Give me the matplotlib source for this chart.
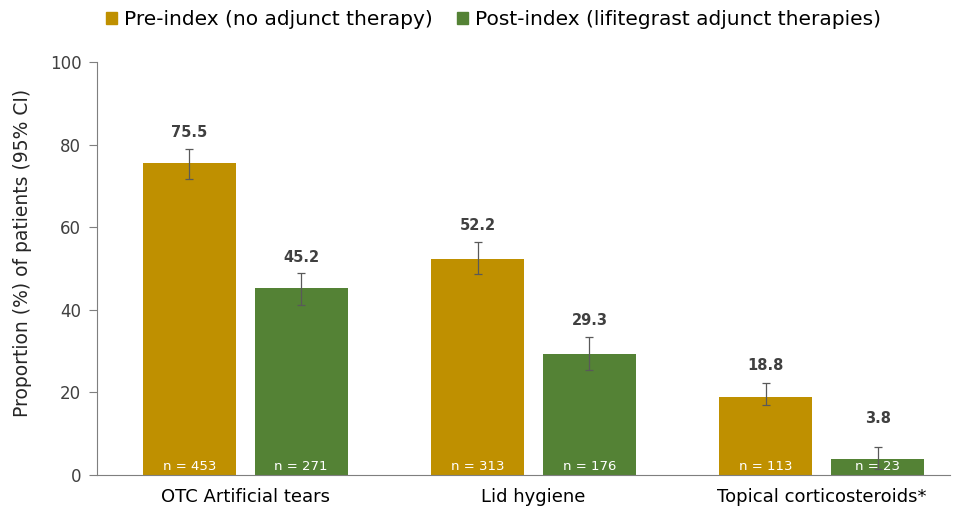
import numpy as np
import matplotlib.pyplot as plt
from matplotlib.patches import Patch

plt.rcParams['font.family'] = ['DejaVu Sans']

categories = ['OTC Artificial tears', 'Lid hygiene', 'Topical corticosteroids*']
pre_vals = [75.5, 52.2, 18.8]
post_vals = [45.2, 29.3, 3.8]
pre_lo = [71.7, 48.6, 16.9]
pre_hi = [78.9, 56.4, 22.3]
post_lo = [41.2, 25.4, 1.6]
post_hi = [48.9, 33.4, 6.8]
pre_n = [453, 313, 113]
post_n = [271, 176, 23]

gold = '#BF9000'
green = '#548235'
grey = '#7F7F7F'

fig = plt.figure(figsize=(9.56, 5.12), dpi=100)
ax = fig.add_axes([0.101, 0.072, 0.893, 0.807])

x = np.arange(len(categories))
w = 0.323
off = 0.194

pre_err = [np.array(pre_vals) - np.array(pre_lo), np.array(pre_hi) - np.array(pre_vals)]
post_err = [np.array(post_vals) - np.array(post_lo), np.array(post_hi) - np.array(post_vals)]

ekw = dict(ecolor='#595959', elinewidth=0.9, capsize=3, capthick=0.9)
ax.bar(x - off, pre_vals, w, color=gold, yerr=pre_err, error_kw=ekw)
ax.bar(x + off, post_vals, w, color=green, yerr=post_err, error_kw=ekw)

# value labels: small gap above the error bar (the last one sits a bit higher)
pre_pad = [2.3, 2.2, 2.3]
post_pad = [2.0, 2.3, 5.2]
for i in range(len(categories)):
    ax.text(x[i] - off, pre_hi[i] + pre_pad[i], f'{pre_vals[i]:.1f}', ha='center', va='bottom',
            fontsize=10.5, fontweight='bold', color='#404040')
    ax.text(x[i] + off, post_hi[i] + post_pad[i], f'{post_vals[i]:.1f}', ha='center', va='bottom',
            fontsize=10.5, fontweight='bold', color='#404040')
    ax.text(x[i] - off, 0.6, f'n = {pre_n[i]}', ha='center', va='bottom', fontsize=9.5, color='white')
    ax.text(x[i] + off, 0.6, f'n = {post_n[i]}', ha='center', va='bottom', fontsize=9.5, color='white')

ax.set_xlim(-0.516, 2.446)
ax.set_ylim(0, 100)
ax.set_yticks([0, 20, 40, 60, 80, 100])
ax.set_xticks(x)
ax.set_xticklabels(categories, fontsize=13)
ax.tick_params(axis='x', length=0, pad=9, colors='#000000')
ax.tick_params(axis='y', labelsize=12, colors=grey, labelcolor='#404040', length=6, width=0.8, pad=5)
ax.set_ylabel('Proportion (%) of patients (95% CI)', fontsize=13.5, color='#262626')
ax.yaxis.set_label_coords(-0.076, 0.537)

for s in ['top', 'right']:
    ax.spines[s].set_visible(False)
ax.spines['left'].set_color(grey)
ax.spines['bottom'].set_color(grey)

handles = [Patch(color=gold, label='Pre-index (no adjunct therapy)'),
           Patch(color=green, label='Post-index (lifitegrast adjunct therapies)')]
fig.legend(handles=handles, loc='center', bbox_to_anchor=(0.516, 0.961), ncol=2, frameon=False,
           fontsize=14.5, handlelength=0.55, handleheight=0.55, handletextpad=0.35, columnspacing=1.2)

fig.savefig('out.png', dpi=100)
